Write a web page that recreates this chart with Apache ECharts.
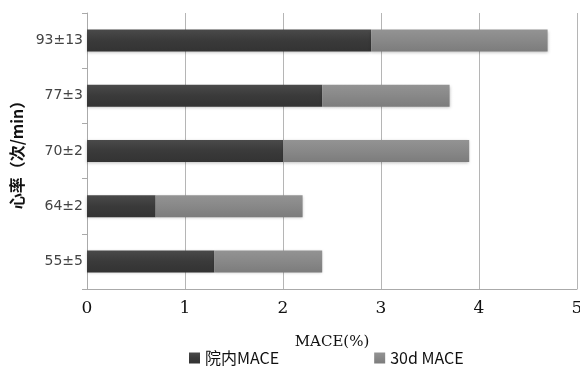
<!DOCTYPE html>
<html><head><meta charset="utf-8">
<script src="https://cdn.jsdelivr.net/npm/echarts@6/dist/echarts.min.js"></script>
<style>html,body{margin:0;padding:0;background:#fff}#c{width:580px;height:366px}</style>
</head><body><div id="c"></div>
<script>
const categories = ['55±5', '64±2', '70±2', '77±3', '93±13'];
const inHospital = [1.3, 0.7, 2.0, 2.4, 2.9];
const day30 = [1.1, 1.5, 1.9, 1.3, 1.8];
const xTicks = [0, 1, 2, 3, 4, 5];

const chart = echarts.init(document.getElementById('c'));
chart.setOption({
  animation: false,
  backgroundColor: '#fff',
  grid: { left: 87, right: 3, top: 13, bottom: 77, outerBoundsMode: 'none', containLabel: false },
  legend: {
    left: 184, top: 345, itemWidth: 11, itemHeight: 11, itemGap: 95,
    icon: 'rect',
    textStyle: { fontFamily: 'Noto Sans CJK SC', fontSize: 16, color: '#111' },
    data: ['院内MACE', '30d MACE']
  },
  xAxis: {
    type: 'value', min: xTicks[0], max: xTicks[xTicks.length - 1], interval: 1,
    name: 'MACE(%)', nameLocation: 'middle', nameGap: 46,
    nameTextStyle: { fontFamily: 'DejaVu Serif', fontSize: 15, color: '#111' },
    axisLine: { show: true, lineStyle: { color: '#aaa', width: 1 } },
    axisTick: { show: false },
    axisLabel: { fontFamily: 'DejaVu Serif', fontSize: 17, color: '#111', margin: 11 },
    splitLine: { show: true, lineStyle: { color: '#b5b5b5', width: 1 } }
  },
  yAxis: {
    type: 'category', data: categories,
    name: '心率（次/min）', nameLocation: 'middle', nameGap: 57, nameRotate: 90,
    nameTextStyle: { fontFamily: 'Noto Sans CJK SC', fontSize: 16, fontWeight: 'bold', color: '#111' },
    axisLine: { show: true, lineStyle: { color: '#aaa', width: 1 } },
    axisTick: { show: true, length: 5, lineStyle: { color: '#aaa' } },
    axisLabel: { fontFamily: 'DejaVu Sans', fontSize: 14, color: '#444', margin: 4 }
  },
  series: [
    {
      name: '院内MACE', type: 'bar', stack: 't', barWidth: 22, data: inHospital,
      itemStyle: { color: new echarts.graphic.LinearGradient(0, 0, 0, 1, [
        { offset: 0, color: '#4a4a4a' }, { offset: 0.5, color: '#3a3a3a' }, { offset: 1, color: '#333' }]),
        shadowColor: 'rgba(0,0,0,0.25)', shadowBlur: 3, shadowOffsetY: 1 }
    },
    {
      name: '30d MACE', type: 'bar', stack: 't', barWidth: 22, data: day30,
      itemStyle: { color: new echarts.graphic.LinearGradient(0, 0, 0, 1, [
        { offset: 0, color: '#939393' }, { offset: 0.5, color: '#888' }, { offset: 1, color: '#7c7c7c' }]),
        shadowColor: 'rgba(0,0,0,0.25)', shadowBlur: 3, shadowOffsetY: 1 }
    }
  ]
});
</script></body></html>
